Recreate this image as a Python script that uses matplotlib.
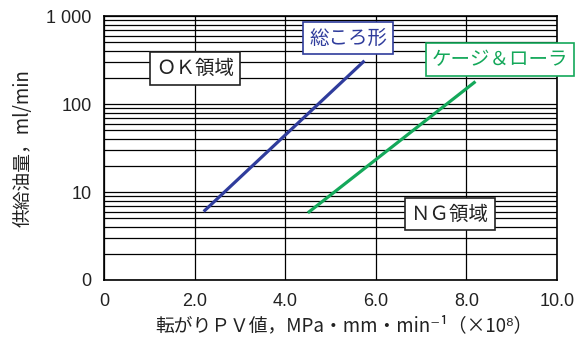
import numpy as np
import matplotlib
matplotlib.use("Agg")
import matplotlib.pyplot as plt
from matplotlib.ticker import FixedLocator, FixedFormatter, LogLocator, NullFormatter

JP = ["Noto Sans CJK JP", "DejaVu Sans"]
NUM = ["Liberation Sans", "DejaVu Sans"]

# PV value (x1e8) vs. oil supply (ml/min), straight segments on log axis
roller_pv = [2.2, 5.75]
roller_oil = [6.0, 310.0]
cage_pv = [4.5, 8.2]
cage_oil = [5.8, 180.0]

xticks = [0, 2, 4, 6, 8, 10]
xtick_labels = ["0", "2.0", "4.0", "6.0", "8.0", "10.0"]
yticks = [1, 10, 100, 1000]
ytick_labels = ["0", "10", "100", "1 000"]

BLUE = "#2f3c9c"
GREEN = "#14a85a"
INK = "#222222"

W, H = 578, 337
fig = plt.figure(figsize=(W / 100, H / 100), dpi=100)
left, right, top, bottom = 104, 557, 16, 280
ax = fig.add_axes([left / W, 1 - bottom / H, (right - left) / W, (bottom - top) / H])

ax.set_yscale("log")
ax.set_xlim(0, 10)
ax.set_ylim(1, 1000)

ax.xaxis.set_major_locator(FixedLocator(xticks))
ax.xaxis.set_major_formatter(FixedFormatter(xtick_labels))
ax.yaxis.set_major_locator(FixedLocator(yticks))
ax.yaxis.set_major_formatter(FixedFormatter(ytick_labels))
ax.yaxis.set_minor_locator(LogLocator(base=10, subs=np.arange(2, 10)))
ax.yaxis.set_minor_formatter(NullFormatter())
ax.tick_params(which="both", length=0)
ax.tick_params(axis="x", pad=9)
ax.tick_params(axis="y", pad=9)
for lab in ax.get_xticklabels() + ax.get_yticklabels():
    lab.set_fontfamily(NUM)
    lab.set_fontsize(13)
    lab.set_color(INK)

ax.grid(True, which="major", color="black", lw=0.9)
ax.grid(True, which="minor", axis="y", color="black", lw=0.9)
ax.set_axisbelow(True)
for sp in ax.spines.values():
    sp.set_linewidth(1.2)

ax.plot(roller_pv, roller_oil, color=BLUE, lw=2.3, solid_capstyle="butt", zorder=3)
ax.plot(cage_pv, cage_oil, color=GREEN, lw=2.3, solid_capstyle="butt", zorder=3)


def boxed(x, y, s, color, edge):
    ax.text(x, y, s, ha="center", va="center", fontsize=14, color=color,
            family=JP, zorder=5, clip_on=False,
            bbox=dict(boxstyle="square,pad=0.3", fc="white", ec=edge, lw=1.2))


boxed(5.39, 560, "総ころ形", BLUE, BLUE)
boxed(8.74, 320, "ケージ＆ローラ", GREEN, GREEN)
boxed(2.01, 255, "ＯＫ領域", INK, INK)
boxed(7.64, 5.6, "ＮＧ領域", INK, INK)

ax.set_ylabel("供給油量，ml/min", family=JP, fontsize=13.5, color=INK, labelpad=9)
ax.set_xlabel("転がりＰＶ値，MPa・mm・min⁻¹（×10⁸）", family=JP, fontsize=13.5,
              color=INK)
ax.xaxis.set_label_coords(0.53, -0.135)

fig.savefig("out.png", dpi=100)
